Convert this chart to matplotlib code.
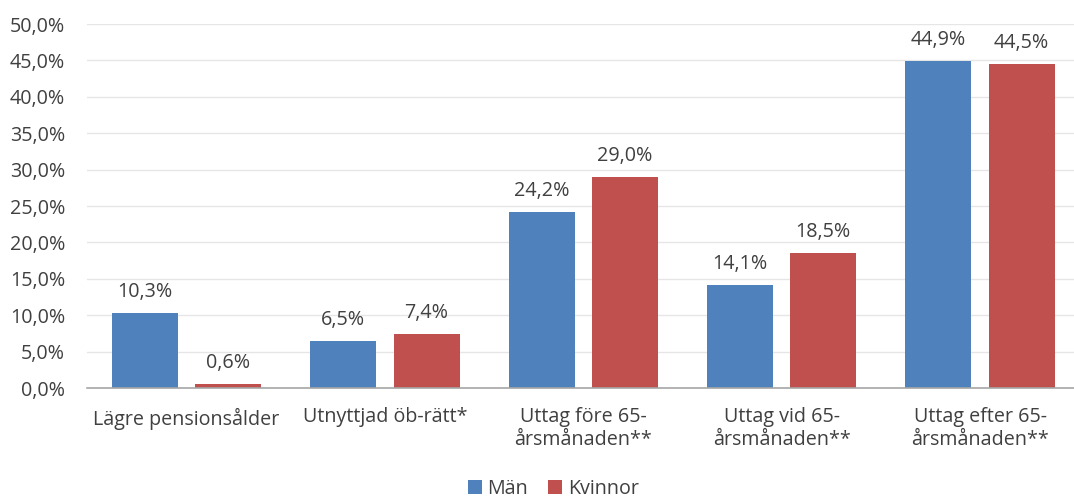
import numpy as np
import matplotlib
matplotlib.use("Agg")
import matplotlib.pyplot as plt
from matplotlib.ticker import FuncFormatter, MultipleLocator

plt.rcParams['font.family'] = ['Open Sans', 'DejaVu Sans']

categories = ["Lägre pensionsålder", "Utnyttjad öb-rätt*", "Uttag före 65-\nårsmånaden**",
              "Uttag vid 65-\nårsmånaden**", "Uttag efter 65-\nårsmånaden**"]
man = [10.3, 6.5, 24.2, 14.1, 44.9]
kvinnor = [0.6, 7.4, 29.0, 18.5, 44.5]
series_names = ["Män", "Kvinnor"]

blue = "#4F81BD"
red = "#C0504D"
txt = "#404040"
fs = 14.2

fig = plt.figure(figsize=(10.74, 5.01), dpi=100)
ax = fig.add_axes([0.0813, 0.2255, 0.9236, 0.7265])

x = np.arange(len(categories))
w = 0.333
off = 0.21
b1 = ax.bar(x - off, man, w, color=blue, label=series_names[0], zorder=3)
b2 = ax.bar(x + off, kvinnor, w, color=red, label=series_names[1], zorder=3)

def fmt(v):
    return f"{v:.1f}".replace(".", ",") + "%"

for bars, vals in ((b1, man), (b2, kvinnor)):
    for b, v in zip(bars, vals):
        ax.annotate(fmt(v), (b.get_x() + b.get_width() / 2, v), xytext=(0, 8),
                    textcoords="offset points", ha="center", va="bottom",
                    fontsize=fs, color=txt)

ax.set_ylim(0, 50)
ax.set_xlim(-0.5, len(categories) - 0.5)
ax.yaxis.set_major_locator(MultipleLocator(5))
ax.yaxis.set_major_formatter(FuncFormatter(lambda v, p: fmt(v)))
ax.grid(axis="y", color="#E6E6E6", lw=1, zorder=0)
for s in ("top", "right", "left"):
    ax.spines[s].set_visible(False)
ax.spines["bottom"].set_color("#A6A6A6")
ax.spines["bottom"].set_linewidth(1.2)
ax.spines["bottom"].set_zorder(4)
ax.tick_params(axis="both", length=0, labelsize=fs, colors=txt)
ax.tick_params(axis="y", pad=16)
ax.tick_params(axis="x", pad=14)
ax.set_xticks(x)
ax.set_xticklabels(categories, linespacing=1.2)

fig.legend(handles=[b1, b2], labels=series_names, loc="center",
           bbox_to_anchor=(0.515, 1 - 489 / 501), ncol=2, frameon=False,
           fontsize=fs, handlelength=0.7, handleheight=0.7, handletextpad=0.3,
           columnspacing=1.0, labelcolor=txt)

fig.savefig("out.png", dpi=100)
